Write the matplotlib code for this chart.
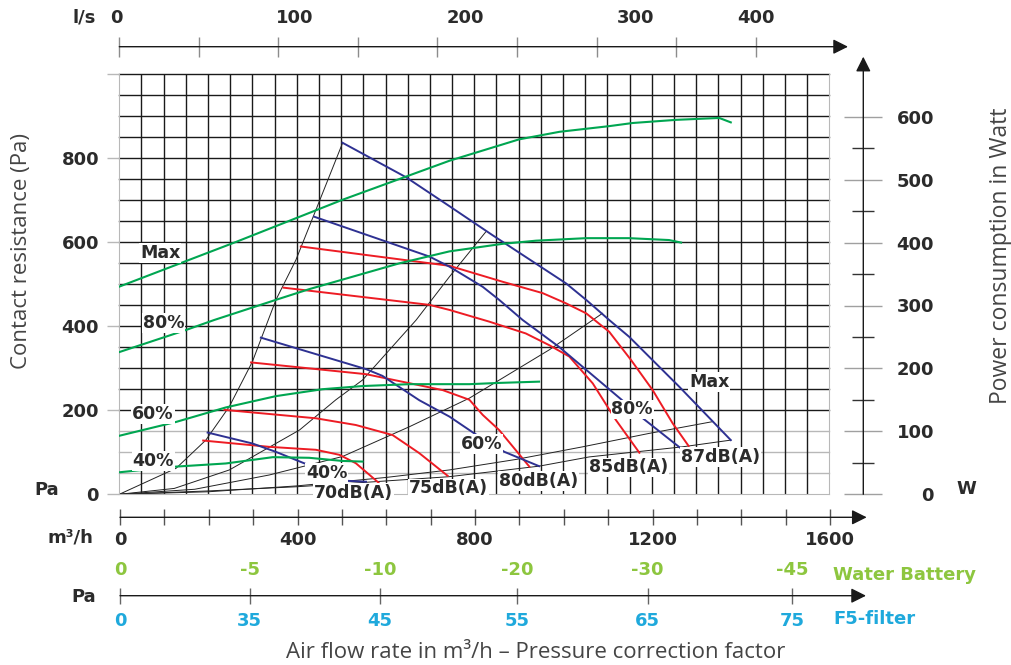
import numpy as np
import matplotlib.pyplot as plt

plt.rcParams['font.family'] = ['DejaVu Sans']

# --- data --------------------------------------------------------------------
# fan curves (blue): air flow m3/h -> static pressure Pa
q_fan_max = [503, 646, 744, 841, 1007, 1052, 1104, 1149, 1262, 1378]
p_fan_max = [837, 755, 686, 617, 502, 463, 415, 375, 256, 129]
q_fan_80 = [439, 699, 744, 819, 856, 909, 991, 1131, 1175, 1266]
p_fan_80 = [661, 566, 542, 494, 463, 415, 351, 226, 185, 109]
q_fan_60 = [319, 556, 593, 676, 744, 800, 868, 946]
p_fan_60 = [373, 298, 282, 224, 185, 145, 101, 67]
q_fan_40 = [199, 300, 353, 421, 480, 515, 556]
p_fan_40 = [147, 121, 101, 72, 48, 32, 30]

# sound level curves (red)
q_db87 = [409, 744, 864, 954, 1006, 1052, 1104, 1153, 1202, 1247, 1283]
p_db87 = [590, 544, 506, 479, 455, 431, 387, 320, 248, 169, 115]
q_db85 = [370, 699, 744, 834, 916, 969, 1014, 1067, 1119, 1172]
p_db85 = [492, 451, 439, 411, 383, 355, 328, 264, 177, 99]
q_db80 = [297, 556, 729, 789, 819, 856, 924]
p_db80 = [314, 286, 248, 225, 189, 153, 66]
q_db75 = [237, 443, 533, 616, 676, 740]
p_db75 = [201, 181, 165, 141, 98, 44]
q_db70 = [189, 338, 443, 496, 533, 584]
p_db70 = [128, 113, 106, 94, 74, 28]

# power consumption (green), in W
q_pw_max = [0, 263, 503, 744, 901, 992, 1104, 1157, 1255, 1352, 1378]
w_pw_max = [330, 401, 468, 530, 564, 576, 585, 590, 595, 598, 591]
q_pw_80 = [0, 150, 214, 353, 428, 631, 744, 864, 939, 1052, 1149, 1239, 1266]
w_pw_80 = [226, 261, 277, 309, 326, 367, 386, 398, 403, 407, 407, 404, 400]
q_pw_60 = [0, 128, 240, 353, 458, 548, 654, 789, 856, 946]
w_pw_60 = [93, 115, 138, 156, 167, 172, 175, 175, 177, 179]
q_pw_40 = [0, 128, 240, 346, 428, 503, 548]
w_pw_40 = [35, 44, 49, 59, 58, 53, 52]

# system curves (thin black)
q_sys1 = [0, 128, 195, 248, 300, 353, 398, 443, 503]
p_sys1 = [0, 62, 129, 209, 316, 463, 558, 677, 836]
q_sys2 = [0, 124, 248, 406, 488, 548, 669, 744, 826]
p_sys2 = [0, 14, 58, 153, 225, 272, 415, 518, 625]
q_sys3 = [0, 170, 338, 503, 654, 789, 969, 1089]
p_sys3 = [0, 12, 46, 90, 161, 229, 344, 431]
q_sys4 = [0, 200, 400, 600, 744, 894, 1044, 1194, 1337]
p_sys4 = [0, 6, 20, 40, 58, 83, 113, 145, 173]
q_sys5 = [0, 200, 400, 548, 744, 946, 1059, 1269, 1378]
p_sys5 = [0, 8, 18, 28, 42, 67, 89, 113, 129]

pa_ticks = [0, 200, 400, 600, 800, 1000]
pa_labels = ['0', '200', '400', '600', '800', '']
w_ticks = [0, 100, 200, 300, 400, 500, 600]
ls_ticks = [0, 50, 100, 150, 200, 250, 300, 350, 400]
ls_labels = [0, 100, 200, 300, 400]
ls_label_dx = [-2, 11.5, 20, 28, 0]  # labels sit off their ticks in the original
m3h_ticks = list(range(0, 1601, 100))
m3h_labels = [0, 400, 800, 1200, 1600]

corr_flow = [0, 292, 586, 895, 1189, 1514]
corr_water = ['0', '-5', '-10', '-20', '-30', '-45']
corr_f5 = ['0', '35', '45', '55', '65', '75']

left_curve_labels = ['Max', '80%', '60%', '40%']
left_label_q = [47, 53, 29, 30]
left_label_p = [575, 408, 191, 79]
fan_labels = ['Max', '80%', '60%', '40%']
fan_label_q = [1284, 1109, 770, 421]
fan_label_p = [267, 202, 120, 50]
db_labels = ['70dB(A)', '75dB(A)', '80dB(A)', '85dB(A)', '87dB(A)']
db_label_q = [439, 652, 855, 1058, 1266]
db_label_p = [4, 14, 32, 64, 88]

BLUE = '#2e3192'
RED = '#ed1c24'
GREEN = '#00a651'
GRID = '#1a1a1a'
LIGHT = '#b8b8b8'
TXT = '#2b2b2b'
WB_GREEN = '#8dc63f'
F5_BLUE = '#1fa9dc'

W_PX, H_PX = 1011, 665
fig = plt.figure(figsize=(W_PX / 100, H_PX / 100), dpi=100)


def box(x0, y0, x1, y1):
    return [x0 / W_PX, 1 - y1 / H_PX, (x1 - x0) / W_PX, (y1 - y0) / H_PX]


def arrow_axis(a, start, end):
    a.annotate('', xy=end, xytext=start, xycoords='axes fraction',
               arrowprops=dict(arrowstyle='-|>,head_length=0.9,head_width=0.45',
                               color='#1a1a1a', lw=1.0, shrinkA=0, shrinkB=0,
                               mutation_scale=10))


tick_font = dict(fontsize=13, fontweight='bold', color=TXT)
light_font = dict(family=['Open Sans', 'DejaVu Sans'], fontweight='normal', color='#454545')

# --- main chart ---------------------------------------------------------------
ax = fig.add_axes(box(119.3, 74.3, 829.3, 494.3))
ax.set_xlim(0, 1600)
ax.set_ylim(0, 1000)
for q in np.arange(50, 1600, 50):
    ax.axvline(q, color=GRID, lw=1.0, zorder=1)
for p in np.arange(50, 1001, 50):
    ax.axhline(p, color=GRID if p >= 200 else LIGHT, lw=1.0,
               zorder=1 if p >= 200 else 0.9, clip_on=False)
for side in ['left', 'right', 'bottom']:
    ax.spines[side].set_color(LIGHT)
ax.spines['top'].set_visible(False)
ax.set_xticks([])
ax.set_yticks(pa_ticks)
ax.set_yticklabels(pa_labels, **tick_font)
ax.tick_params(axis='y', length=8.6, width=1, color=LIGHT, pad=6)

for q, p in [(q_sys1, p_sys1), (q_sys2, p_sys2), (q_sys3, p_sys3),
             (q_sys4, p_sys4), (q_sys5, p_sys5)]:
    ax.plot(q, p, color='#222222', lw=0.7, zorder=2)
for q, p in [(q_db87, p_db87), (q_db85, p_db85), (q_db80, p_db80),
             (q_db75, p_db75), (q_db70, p_db70)]:
    ax.plot(q, p, color=RED, lw=1.4, zorder=3)
for q, p in [(q_fan_max, p_fan_max), (q_fan_80, p_fan_80),
             (q_fan_60, p_fan_60), (q_fan_40, p_fan_40)]:
    ax.plot(q, p, color=BLUE, lw=1.4, zorder=3)

# power curves on the Watt scale
axg = ax.twinx()
axg.set_ylim(0, 420 / (377.6 / 600))
axg.axis('off')
for q, w in [(q_pw_max, w_pw_max), (q_pw_80, w_pw_80),
             (q_pw_60, w_pw_60), (q_pw_40, w_pw_40)]:
    axg.plot(q, w, color=GREEN, lw=1.5)

label_box = dict(facecolor='white', edgecolor='none', pad=0.6)
lab_font = dict(fontsize=12.5, fontweight='bold', color=TXT, va='center', ha='left')
for txt, q, p in zip(left_curve_labels, left_label_q, left_label_p):
    axg.text(q, p, txt, transform=ax.transData, bbox=label_box, zorder=5, **lab_font)
for txt, q, p in zip(fan_labels, fan_label_q, fan_label_p):
    axg.text(q, p, txt, transform=ax.transData, bbox=label_box, zorder=5, **lab_font)
for txt, q, p in zip(db_labels, db_label_q, db_label_p):
    axg.text(q, p, txt, transform=ax.transData, bbox=label_box, zorder=5,
             clip_on=False, **lab_font)

ax.annotate('Pa', xy=(0, 0), xycoords='data', xytext=(-52, 3),
            textcoords='offset points', ha='center', va='center', **tick_font)

# --- power axis (right) -------------------------------------------------------
axw = fig.add_axes(box(863.3, 56.7, 864.3, 494.3))
axw.set_ylim(0, (494.3 - 56.7) / (377.6 / 600))
axw.patch.set_visible(False)
for s in axw.spines.values():
    s.set_visible(False)
axw.set_xticks([])
axw.set_yticks(w_ticks)
axw.set_yticks(np.arange(50, 600, 100), minor=True)
axw.tick_params(axis='y', which='major', direction='inout', length=27.4, width=1,
                color='#a0a0a0', left=True, right=False, labelleft=False,
                labelright=True, pad=36.5)
axw.tick_params(axis='y', which='minor', direction='inout', length=15.8, width=1,
                color='#333333', left=True, right=False)
axw.set_yticklabels([str(v) for v in w_ticks], **tick_font)
plt.setp(axw.get_yticklabels(), ha='right')
arrow_axis(axw, (0, 0), (0, 1))

# --- l/s axis (top) -----------------------------------------------------------
axt = fig.add_axes(box(119.3, 45.7, 848, 46.7))
axt.set_xlim(0, (848 - 119.3) / 1.591)
axt.patch.set_visible(False)
for s in axt.spines.values():
    s.set_visible(False)
axt.set_yticks([])
axt.set_xticks(ls_ticks)
axt.tick_params(axis='x', direction='inout', length=15, width=1, color='#8c8c8c',
                labelbottom=False)
for v, dx in zip(ls_labels, ls_label_dx):
    axt.annotate(str(v), xy=(v, 0), xycoords=('data', 'axes fraction'),
                 xytext=(dx, 20.5), textcoords='offset points',
                 ha='center', va='center', **tick_font)
arrow_axis(axt, (0, 0), (1, 0))

# --- m3/h axis (bottom) -------------------------------------------------------
axb = fig.add_axes(box(120, 516.3, 866.7, 517.3))
axb.set_xlim(0, (866.7 - 120) / 0.44375)
axb.patch.set_visible(False)
for s in axb.spines.values():
    s.set_visible(False)
axb.set_yticks([])
axb.set_xticks(m3h_ticks)
axb.set_xticklabels([str(v) if v in m3h_labels else '' for v in m3h_ticks], **tick_font)
axb.tick_params(axis='x', direction='inout', length=11.5, width=1, color='#555555', pad=4)
arrow_axis(axb, (0, 0), (1, 0))

# --- pressure correction axis -------------------------------------------------
axc = fig.add_axes(box(120, 594.7, 866, 595.7))
axc.set_xlim(0, (866 - 120) / 0.44375)
axc.patch.set_visible(False)
for s in axc.spines.values():
    s.set_visible(False)
axc.set_yticks([])
axc.set_xticks(corr_flow)
axc.set_xticklabels(corr_f5, fontsize=13, fontweight='bold', color=F5_BLUE)
axc.tick_params(axis='x', direction='inout', length=12, width=1, color='#666666', pad=6)
axc2 = axc.twiny()
axc2.set_xlim(axc.get_xlim())
axc2.patch.set_visible(False)
for s in axc2.spines.values():
    s.set_visible(False)
axc2.set_xticks(corr_flow)
axc2.set_xticklabels(corr_water, fontsize=13, fontweight='bold', color=WB_GREEN)
axc2.tick_params(axis='x', length=0, pad=11)
arrow_axis(axc, (0, 0), (1, 0))

# --- free texts ---------------------------------------------------------------
def ftext(x, y, s, **kw):
    fig.text(x / W_PX, 1 - y / H_PX, s, **kw)


ftext(84, 18, 'l/s', ha='center', va='center', **tick_font)
ftext(70, 538, 'm\u00b3/h', ha='center', va='center', **tick_font)
ftext(84, 597, 'Pa', ha='center', va='center', **tick_font)
ftext(966, 489, 'W', ha='center', va='center', **tick_font)
ftext(833, 575, 'Water Battery', ha='left', va='center', fontsize=13,
      fontweight='bold', color=WB_GREEN)
ftext(833, 619, 'F5-filter', ha='left', va='center', fontsize=13,
      fontweight='bold', color=F5_BLUE)
ftext(22, 251, 'Contact resistance (Pa)', ha='center', va='center', rotation=90,
      fontsize=16, **light_font)
ftext(1001, 256, 'Power consumption in Watt', ha='center', va='center', rotation=90,
      fontsize=16.5, **light_font)
ftext(536, 652, 'Air flow rate in m\u00b3/h \u2013 Pressure correction factor',
      ha='center', va='center', fontsize=16, **light_font)

fig.savefig('out.png', dpi=100)
